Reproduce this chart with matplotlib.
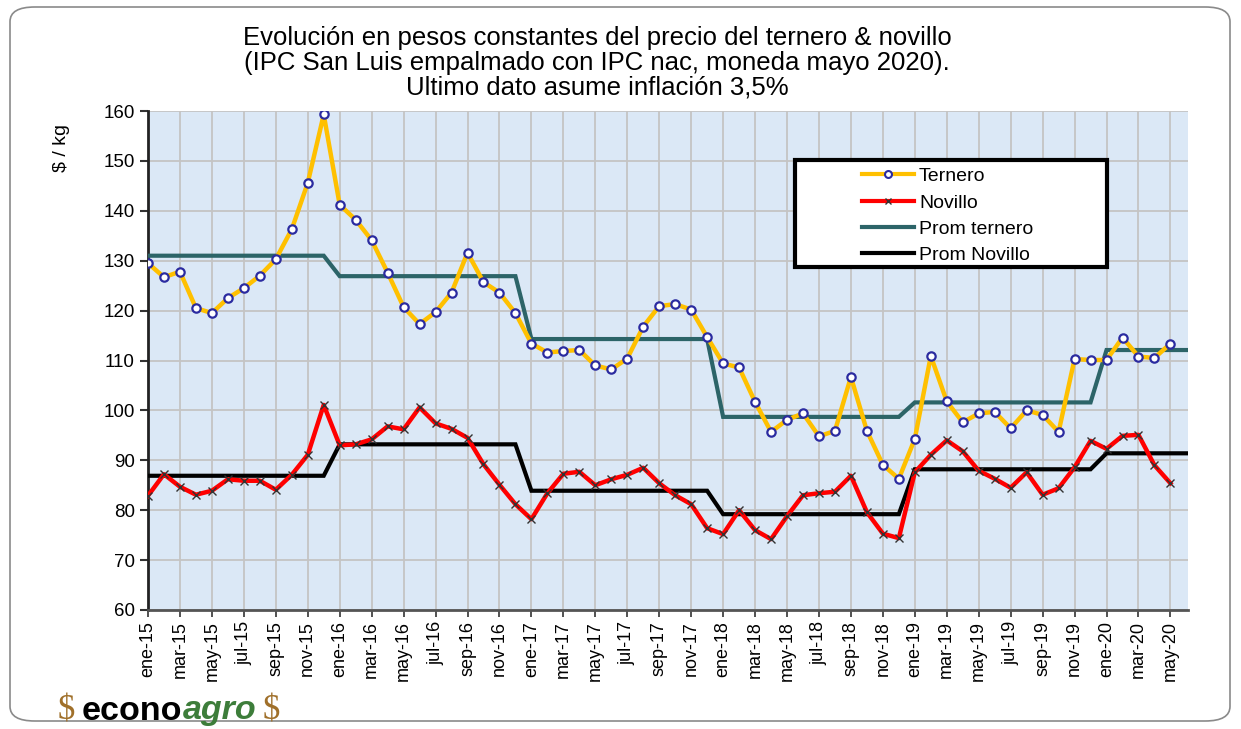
import matplotlib
matplotlib.use("Agg")
import matplotlib.pyplot as plt
from matplotlib.patches import FancyBboxPatch, Rectangle
from matplotlib.lines import Line2D
import numpy as np

plt.rcParams['font.family'] = ['Liberation Sans', 'DejaVu Sans']

# ---------------- data ----------------
month_abbr = ["ene", "feb", "mar", "abr", "may", "jun", "jul", "ago", "sep", "oct", "nov", "dic"]
years = [15, 16, 17, 18, 19, 20]
months = [f"{m}-{y}" for y in years for m in month_abbr][:65]   # ene-15 .. may-20

ternero = [129.5, 126.7, 127.8, 120.5, 119.5, 122.5, 124.5, 127.0, 130.3, 136.3, 145.6, 159.3,
           141.2, 138.2, 134.1, 127.6, 120.7, 117.3, 119.7, 123.6, 131.6, 125.7, 123.6, 119.5,
           113.4, 111.6, 111.9, 112.1, 109.0, 108.2, 110.4, 116.8, 120.9, 121.3, 120.2, 114.7,
           109.4, 108.6, 101.7, 95.7, 98.1, 99.4, 94.8, 95.9, 106.7, 95.9, 89.1, 86.3,
           94.3, 110.9, 101.8, 97.6, 99.4, 99.7, 96.4, 100.0, 99.1, 95.7, 110.3, 110.1,
           110.1, 114.6, 110.8, 110.5, 113.4]

novillo = [82.9, 87.2, 84.7, 83.1, 83.9, 86.2, 85.9, 85.9, 84.1, 87.1, 91.1, 101.1,
           93.0, 93.2, 94.2, 96.8, 96.2, 100.6, 97.4, 96.3, 94.5, 89.2, 85.1, 81.2,
           78.2, 83.4, 87.3, 87.7, 85.0, 86.2, 87.1, 88.5, 85.4, 83.0, 81.2, 76.4,
           75.2, 80.0, 76.0, 74.2, 78.8, 83.0, 83.4, 83.7, 86.9, 79.6, 75.3, 74.4,
           87.6, 91.1, 94.0, 91.8, 87.9, 86.3, 84.5, 87.6, 83.1, 84.4, 88.6, 93.9,
           92.3, 94.9, 95.1, 89.0, 85.4]

prom_ternero_anual = [131.0, 126.9, 114.3, 98.7, 101.6, 112.1]
prom_novillo_anual = [86.9, 93.2, 83.9, 79.2, 88.2, 91.4]

title_lines = ["Evolución en pesos constantes del precio del ternero & novillo",
               "(IPC San Luis empalmado con IPC nac, moneda mayo 2020).",
               "Ultimo dato asume inflación 3,5%"]
series_names = ["Ternero", "Novillo", "Prom ternero", "Prom Novillo"]

# ---------------- figure ----------------
W, H = 1241, 729
fig = plt.figure(figsize=(W / 100, H / 100), dpi=100)
fig.patch.set_facecolor("white")

# rounded outer border
border = FancyBboxPatch((10 / W, 8 / H), (1230 - 10) / W, (722 - 8) / H,
                        boxstyle="round,pad=0,rounding_size=0.02",
                        transform=fig.transFigure, facecolor="none",
                        edgecolor="#8a8a8a", linewidth=1.2)
fig.patches.append(border)

ax = fig.add_axes([148 / W, 1 - 610 / H, (1188 - 148) / W, (610 - 111) / H])
ax.set_facecolor("#dbe8f6")

x = np.arange(len(months))
n_avg = len(months) + 1  # averages extend to the right edge


def step_series(annual, n):
    return [annual[min(i // 12, len(annual) - 1)] for i in range(n)]


xa = np.arange(n_avg)
pt = step_series(prom_ternero_anual, n_avg)
pn = step_series(prom_novillo_anual, n_avg)

teal = "#2c6468"
ax.plot(xa, pt, color=teal, lw=3.0, zorder=3, solid_joinstyle="miter")
ax.plot(xa, pn, color="black", lw=3.0, zorder=3, solid_joinstyle="miter")
ax.plot(x, ternero, color="#ffc000", lw=3.2, zorder=4, marker="o", markersize=6,
        markerfacecolor="white", markeredgecolor="#2b2ba0", markeredgewidth=1.6)
ax.plot(x, novillo, color="#ff0000", lw=3.2, zorder=4, marker="x", markersize=6,
        markeredgecolor="#333333", markeredgewidth=1.0)

ax.set_xlim(0, 65.1)
ax.set_ylim(60, 160)
ax.set_yticks(np.arange(60, 161, 10))
ax.set_xticks(x[::2])
ax.set_xticklabels(months[::2], rotation=90, fontsize=13)
ax.tick_params(axis="y", labelsize=13.5, direction="out", length=6, width=1.5, color="#333333")
ax.tick_params(axis="x", direction="out", length=5, width=1.2, color="#333333", pad=3)
ax.grid(True, color="#c4c4c4", lw=1.3)
ax.set_axisbelow(True)
for s in ["top", "right"]:
    ax.spines[s].set_visible(False)
ax.spines["left"].set_color("#222222")
ax.spines["left"].set_linewidth(2)
ax.spines["bottom"].set_color("#555555")
ax.spines["bottom"].set_linewidth(2)

# y label
fig.text(62 / W, 1 - 148 / H, "$ / kg", rotation=90, ha="center", va="center", fontsize=14)

# title
for i, line in enumerate(title_lines):
    fig.text(597 / W, 1 - (38 + 25 * i) / H, line, ha="center", va="center", fontsize=18.5)

# legend box
rect = Rectangle((795 / W, 1 - 267 / H), (1107 - 795) / W, (267 - 160) / H,
                 transform=fig.transFigure, facecolor="white", edgecolor="black",
                 linewidth=3, zorder=10)
fig.patches.append(rect)
handles = [
    Line2D([], [], color="#ffc000", lw=3, marker="o", markersize=5,
           markerfacecolor="white", markeredgecolor="#2b2ba0", markeredgewidth=1.5),
    Line2D([], [], color="#ff0000", lw=3, marker="x", markersize=5,
           markeredgecolor="#333333", markeredgewidth=1.0),
    Line2D([], [], color=teal, lw=3),
    Line2D([], [], color="black", lw=3),
]
leg = fig.legend(handles, series_names, loc="upper left",
                 bbox_to_anchor=(848 / W, 1 - 154 / H), bbox_transform=fig.transFigure,
                 frameon=False, fontsize=14, handlelength=2.7, handletextpad=0.25,
                 labelspacing=0.45, borderpad=0.2)
leg.set_zorder(11)

# logo (pieces chained horizontally)
fig.canvas.draw()
renderer = fig.canvas.get_renderer()
logo_y = 1 - 711 / H
pieces = [("$", dict(fontsize=25, color="#a0702a", family="Liberation Serif"), 6),
          ("econo", dict(fontsize=24.5, fontweight="bold", color="black"), 1),
          ("agro", dict(fontsize=24.5, fontweight="bold", style="italic", color="#3d7d3a"), 6),
          ("$", dict(fontsize=25, color="#a0702a", family="Liberation Serif"), 0)]
cur_x = 58
for txt, kw, gap in pieces:
    t = fig.text(cur_x / W, logo_y, txt, ha="left", va="center", **kw)
    bb = t.get_window_extent(renderer=renderer)
    cur_x = bb.x1 + gap

fig.savefig("out.png", dpi=100)
